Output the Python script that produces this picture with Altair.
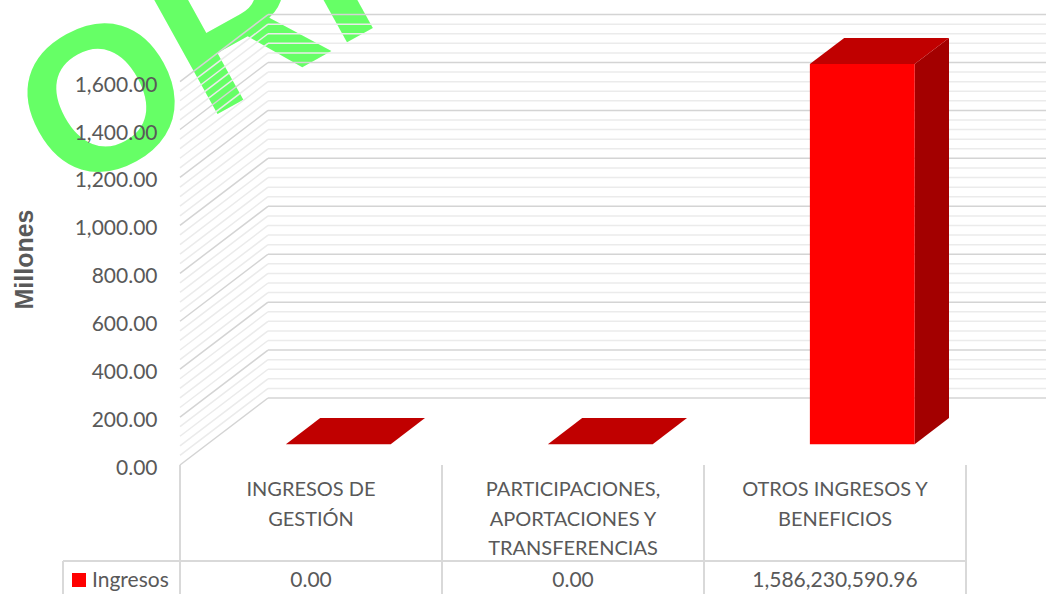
import altair as alt
import pandas as pd

# ---------------- data ----------------
category_lines = [
    ["INGRESOS DE", "GESTIÓN"],
    ["PARTICIPACIONES,", "APORTACIONES Y", "TRANSFERENCIAS"],
    ["OTROS INGRESOS Y", "BENEFICIOS"],
]
values = [0.00, 0.00, 1586230590.96]
series_name = "Ingresos"
y_ticks = [0, 200, 400, 600, 800, 1000, 1200, 1400, 1600]
watermark_text = "ORIGINAL"

# ---------------- layout / style constants ----------------
PLOT_W, PLOT_H = 866, 465
COL_PX = 262                      # width of one category column in px
X_MAX = PLOT_W / COL_PX           # x domain in column units
Y_MAX = 1940.5                    # y domain top (millions)
PX_PER_UNIT = PLOT_H / Y_MAX
DEPTH_X = 88 / COL_PX             # oblique depth offset (column units)
DEPTH_Y = 67 / PX_PER_UNIT        # oblique depth offset (value units)
D_FRONT, D_BACK = 0.31, 0.70      # bar depth position (fraction of floor depth)
BAR_W = 0.4
GRID_STEP, MAJOR_STEP, AXIS_MAX = 40, 200, 1600
LEGEND_X = -117 / COL_PX          # left edge of legend cell (column units)

GRAY_TXT = "#595959"
FONT = "Lato"

xs = alt.Scale(domain=[0, X_MAX], nice=False, zero=False)
ys = alt.Scale(domain=[0, Y_MAX], nice=False, zero=False)

yaxis = alt.Axis(
    values=y_ticks, format=",.2f", title="Millones", grid=False, domain=False,
    ticks=False, tickSize=0, labelPadding=23, labelOffset=3.5,
    labelFont=FONT, labelFontSize=21, labelColor=GRAY_TXT,
    titleFont="Liberation Sans", titleFontSize=25, titleFontWeight="bold",
    titleColor=GRAY_TXT, titleAngle=270, titleAlign="center",
    titleBaseline="alphabetic", titleX=-148, titleY=259, zindex=1,
)


def X(f):
    return alt.X(f, scale=xs, axis=None)


def Y(f):
    return alt.Y(f, scale=ys, axis=yaxis)


# ---------------- walls ----------------
wall_rows = []
for v in range(0, AXIS_MAX + 1, GRID_STEP):
    major = v % MAJOR_STEP == 0
    wall_rows.append(dict(x=0, x2=DEPTH_X, y=v, y2=v + DEPTH_Y, major=major))
    wall_rows.append(dict(x=DEPTH_X, x2=X_MAX, y=v + DEPTH_Y, y2=v + DEPTH_Y, major=major))
walls = pd.DataFrame(wall_rows)

minor_layer = alt.Chart(walls).transform_filter("!datum.major").mark_rule(
    color="#ebebeb", strokeWidth=1.5
).encode(x=X("x:Q"), x2="x2:Q", y=Y("y:Q"), y2="y2:Q")
major_layer = alt.Chart(walls).transform_filter("datum.major").mark_rule(
    color="#d4d4d4", strokeWidth=1.5
).encode(x=X("x:Q"), x2="x2:Q", y=Y("y:Q"), y2="y2:Q")

# ---------------- 3D bars ----------------
front_rows, side_rows, top_rows = [], [], []
for i, val in enumerate(values):
    v = val / 1e6
    xl, xr = i + 0.5 - BAR_W / 2, i + 0.5 + BAR_W / 2
    fx, fy = D_FRONT * DEPTH_X, D_FRONT * DEPTH_Y
    bx, by = D_BACK * DEPTH_X, D_BACK * DEPTH_Y
    front_rows.append(dict(i=i, x=xl + fx, x2=xr + fx, y=fy, y2=v + fy))
    side_rows.append(dict(i=i, x=xr + fx, y=fy, y2=v + fy))
    side_rows.append(dict(i=i, x=xr + bx, y=by, y2=v + by))
    top_rows.append(dict(i=i, y=v + fy, x=xl + fx, x2=xr + fx))
    top_rows.append(dict(i=i, y=v + by, x=xl + bx, x2=xr + bx))

side_layer = alt.Chart(pd.DataFrame(side_rows)).mark_area(
    color="#a30000", orient="vertical"
).encode(x=X("x:Q"), y=Y("y:Q"), y2="y2:Q", detail="i:N")
top_layer = alt.Chart(pd.DataFrame(top_rows)).mark_area(
    color="#c00000", orient="horizontal"
).encode(y=Y("y:Q"), x=X("x:Q"), x2="x2:Q", detail="i:N")
front_layer = alt.Chart(pd.DataFrame(front_rows)).mark_rect(color="#ff0000").encode(
    x=X("x:Q"), x2="x2:Q", y=Y("y:Q"), y2="y2:Q"
)

# ---------------- watermark ----------------
wm = alt.Chart(pd.DataFrame({"t": [watermark_text]})).mark_text(
    angle=331, font="Liberation Sans", fontSize=205, fontWeight="bold",
    color="#66ff66", align="left", baseline="alphabetic",
).encode(x=alt.value(-114), y=alt.value(198), text="t:N")

# ---------------- data table ----------------
n = len(values)
cat_df = pd.DataFrame({
    "x": [i + 0.5 for i in range(n)],
    "label": ["\n".join(l) for l in category_lines],
    "val": values,
})
vlines = pd.DataFrame({"x": list(range(n + 1))})

table_v = alt.Chart(vlines).mark_rule(color="#d9d9d9", strokeWidth=2).encode(
    x=X("x:Q"), y=alt.value(465), y2=alt.value(594)
)
hline = alt.Chart(pd.DataFrame({"x": [LEGEND_X], "x2": [n]})).mark_rule(
    color="#d9d9d9", strokeWidth=2
).encode(x=X("x:Q"), x2="x2:Q", y=alt.value(561))
legend_edge = alt.Chart(pd.DataFrame({"x": [LEGEND_X]})).mark_rule(
    color="#d9d9d9", strokeWidth=2
).encode(x=X("x:Q"), y=alt.value(561), y2=alt.value(594))

cat_text = alt.Chart(cat_df).mark_text(
    lineBreak="\n", lineHeight=29.5, align="center", baseline="alphabetic",
    font=FONT, fontSize=20, color=GRAY_TXT,
).encode(x=X("x:Q"), y=alt.value(496), text="label:N")

val_text = alt.Chart(cat_df).mark_text(
    align="center", baseline="alphabetic", font=FONT, fontSize=21, color=GRAY_TXT,
).encode(x=X("x:Q"), y=alt.value(587), text=alt.Text("val:Q", format=",.2f"))

leg_df = pd.DataFrame({"s": [series_name]})
leg_sq = alt.Chart(leg_df).mark_rect(color="#ff0000").encode(
    x=alt.value(-108), x2=alt.value(-94), y=alt.value(573), y2=alt.value(587)
)
leg_txt = alt.Chart(leg_df).mark_text(
    align="left", baseline="alphabetic", font=FONT, fontSize=21, color=GRAY_TXT
).encode(x=alt.value(-88), y=alt.value(587), text="s:N")

chart = alt.layer(
    wm, minor_layer, major_layer, side_layer, top_layer, front_layer,
    table_v, hline, legend_edge, cat_text, val_text, leg_sq, leg_txt,
).properties(
    width=PLOT_W, height=PLOT_H,
    autosize=alt.AutoSizeParams(type="none"),
    padding={"left": 180, "top": 0, "right": 0, "bottom": 129},
    background="white",
).configure_view(stroke=None)

chart.save("out.html", embed_options={"renderer": "svg", "actions": False})
